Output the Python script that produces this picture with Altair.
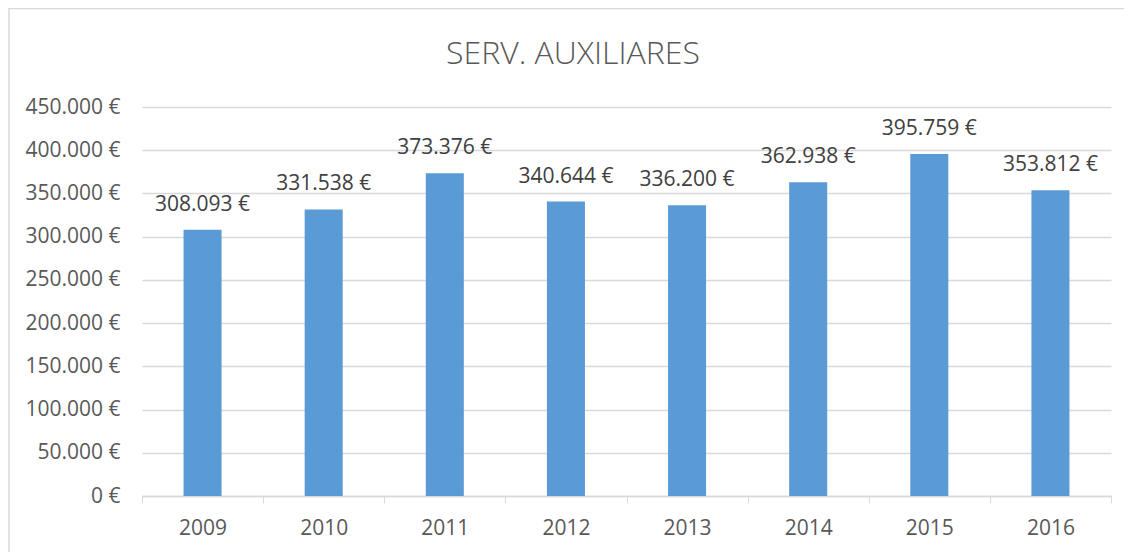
import altair as alt
import pandas as pd

years = ["2009", "2010", "2011", "2012", "2013", "2014", "2015", "2016"]
values = [308093, 331538, 373376, 340644, 336200, 362938, 395759, 353812]
tick_values = [0, 50000, 100000, 150000, 200000, 250000, 300000, 350000, 400000, 450000]
title_text = "SERV. AUXILIARES"

df = pd.DataFrame({"year": years, "value": values})
df["label"] = [f"{v:,}".replace(",", ".") + " €" for v in values]

FONT = "Open Sans"
FS = 21
W, H = 969, 389

x_enc = alt.X("year:N", sort=years, title=None,
              scale=alt.Scale(paddingInner=0, paddingOuter=0),
              axis=alt.Axis(labelAngle=0, tickBand="extent", ticks=True, tickSize=7,
                            tickColor="#D9D9D9", domainColor="#D9D9D9", domainWidth=1.5,
                            labelPadding=14, labelFontSize=FS, labelColor="#595959",
                            labelFont=FONT, grid=False))
y_enc = alt.Y("value:Q", title=None,
              scale=alt.Scale(domain=[0, 450000], nice=False),
              axis=alt.Axis(values=tick_values, format=",.0f", labelExpr="datum.label + ' €'",
                            ticks=False, domain=False, grid=True, gridColor="#D9D9D9",
                            gridWidth=1.5, labelPadding=22, labelFontSize=FS,
                            labelColor="#595959", labelFont=FONT))

bars = alt.Chart(df).mark_bar(color="#5B9BD5", width=alt.RelativeBandSize(0.314)).encode(
    x=x_enc, y=y_enc
)

labels = alt.Chart(df).mark_text(baseline="alphabetic", dy=-19, fontSize=FS, color="#404040",
                                 font=FONT).encode(
    x=alt.X("year:N", sort=years), y="value:Q", text="label:N"
)

one = pd.DataFrame({"t": [title_text]})
border = alt.Chart(one).mark_rect(fill=None, stroke="#D9D9D9", strokeWidth=1.5).encode(
    x=alt.value(-133), x2=alt.value(1100), y=alt.value(-98.5), y2=alt.value(600)
)
title = alt.Chart(one).mark_text(baseline="middle", align="center", fontSize=32,
                                 fontWeight=300, color="#595959", font=FONT).encode(
    x=alt.value(431), y=alt.value(-53), text="t:N"
)

chart = alt.layer(border, title, bars, labels).properties(
    width=W, height=H,
    padding={"left": 134, "top": 99, "right": 13, "bottom": 56},
    autosize=alt.AutoSizeParams(type="none"),
).configure(
    locale={"number": {"decimal": ",", "thousands": ".", "grouping": [3], "currency": ["", " €"]}}
).configure_view(stroke=None)

chart.save("out.html", embed_options={"renderer": "svg", "actions": False})
